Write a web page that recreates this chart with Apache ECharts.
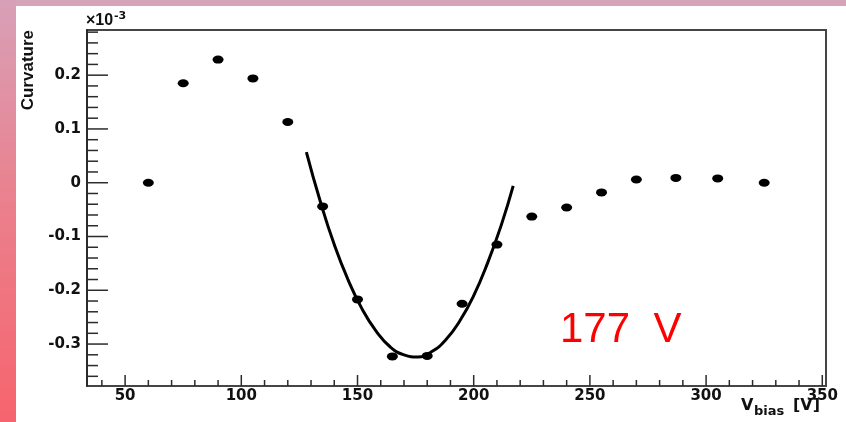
<!DOCTYPE html>
<html>
<head>
<meta charset="utf-8">
<script src="https://cdn.jsdelivr.net/npm/echarts@6/dist/echarts.min.js"></script>
<style>
  html, body { margin: 0; padding: 0; background: #ffffff; }
  #chart { width: 846px; height: 422px; }
</style>
</head>
<body>
<div id="chart"></div>
<script>
// Measured curvature (units of 1e-3) against bias voltage [V]
const vBias = [60, 75, 90, 105, 120, 135, 150, 165, 180, 195, 210, 225, 240, 255, 270, 287, 305, 325];
const curvature = [0.000, 0.185, 0.229, 0.194, 0.113, -0.044, -0.217, -0.323, -0.322, -0.225, -0.115, -0.063, -0.046, -0.018, 0.006, 0.009, 0.008, 0.000];

// Parabolic fit around the minimum
const fitV = [128, 134, 140, 146, 152, 158, 164, 170, 176, 182, 188, 194, 200, 206, 212, 217];
const fitCurvature = [0.057, -0.035, -0.115, -0.181, -0.235, -0.276, -0.305, -0.320, -0.324, -0.314, -0.292, -0.257, -0.210, -0.149, -0.077, -0.006];

// Axis ticks and labels
const xMajorTicks = [50, 100, 150, 200, 250, 300, 350];
const xMinorTicks = [40, 60, 70, 80, 90, 110, 120, 130, 140, 160, 170, 180, 190, 210, 220, 230, 240,
                     260, 270, 280, 290, 310, 320, 330, 340];
const yMajorTicks = [-0.3, -0.2, -0.1, 0, 0.1, 0.2];
const yMinorTicks = [-0.36, -0.34, -0.32, -0.28, -0.26, -0.24, -0.22, -0.18, -0.16, -0.14, -0.12,
                     -0.08, -0.06, -0.04, -0.02, 0.02, 0.04, 0.06, 0.08, 0.12, 0.14, 0.16, 0.18,
                     0.22, 0.24, 0.26, 0.28];

const X_MIN = 33.6, X_MAX = 351.6;
const Y_MIN = -0.378, Y_MAX = 0.284;

const tickFont = { fontFamily: 'DejaVu Sans', fontWeight: 'bold', fontSize: 15, color: '#111' };
const axisInk = '#2b2b2b';

// Inward tick marks placed through the axis scales: x ticks rise from the bottom edge,
// y ticks extend right from the left edge.
function tickSeries(values, dim, length) {
  return {
    type: 'custom', xAxisIndex: 0, yAxisIndex: 0, silent: true, z: 10, clip: false,
    data: values.map(v => [v, v]),
    renderItem: function (params, api) {
      const v = api.value(0);
      const p = dim === 'x' ? api.coord([v, Y_MIN]) : api.coord([X_MIN, v]);
      const q = dim === 'x' ? [p[0], p[1] - length] : [p[0] + length, p[1]];
      return {
        type: 'line',
        z2: 10,
        shape: { x1: p[0], y1: p[1], x2: q[0], y2: q[1] },
        style: { stroke: axisInk, lineWidth: 1.5 }
      };
    }
  };
}

const chart = echarts.init(document.getElementById('chart'));

chart.setOption({
  animation: false,
  grid: {
    left: 87, top: 30, right: 20, bottom: 36,
    show: true, borderColor: '#454545', borderWidth: 2
  },
  xAxis: {
    type: 'value', min: X_MIN, max: X_MAX, position: 'bottom',
    axisLine: { show: false, onZero: false },
    splitLine: { show: false },
    axisTick: { show: false },
    axisLabel: Object.assign({ customValues: xMajorTicks, margin: 3 }, tickFont)
  },
  yAxis: {
    type: 'value', min: Y_MIN, max: Y_MAX, position: 'left',
    axisLine: { show: true, onZero: false, lineStyle: { color: axisInk, width: 2 } },
    splitLine: { show: false },
    axisTick: { show: false },
    axisLabel: Object.assign({
      customValues: yMajorTicks, margin: 6,
      formatter: v => (Math.abs(v) < 1e-9 ? '0' : v.toFixed(1))
    }, tickFont)
  },
  series: [
    tickSeries(xMajorTicks, 'x', 11),
    tickSeries(xMinorTicks, 'x', 6),
    tickSeries(yMajorTicks, 'y', 21),
    tickSeries(yMinorTicks, 'y', 11),
    {
      name: 'fit', type: 'line',
      data: fitV.map((v, i) => [v, fitCurvature[i]]),
      smooth: true, symbol: 'none',
      lineStyle: { color: '#000000', width: 3 },
      z: 2
    },
    {
      name: 'curvature', type: 'scatter',
      data: vBias.map((v, i) => [v, curvature[i]]),
      symbol: 'circle', symbolSize: [11, 8],
      itemStyle: { color: '#000000', opacity: 1 },
      z: 3
    }
  ],
  graphic: [
    // slide frame strips
    { type: 'rect', shape: { x: 0, y: 0, width: 846, height: 6 }, style: { fill: '#d6a3b9' }, silent: true },
    {
      type: 'rect', shape: { x: 0, y: 0, width: 16, height: 422 }, silent: true,
      style: {
        fill: new echarts.graphic.LinearGradient(0, 0, 0, 1, [
          { offset: 0, color: '#d8a0b7' },
          { offset: 0.5, color: '#eb7f8b' },
          { offset: 1, color: '#f6646e' }
        ])
      }
    },
    // axis titles
    {
      type: 'text', x: 28, y: 30, rotation: Math.PI / 2,
      style: { text: 'Curvature', font: 'bold 17px "Liberation Sans"', fill: '#111',
               align: 'right', verticalAlign: 'middle' }
    },
    {
      type: 'text', x: 86, y: 21,
      style: { text: '×10', font: 'bold 16px "Liberation Sans"', fill: '#111',
               align: 'left', verticalAlign: 'middle' }
    },
    {
      type: 'text', x: 114, y: 16.5,
      style: { text: '-3', font: 'bold 11px "DejaVu Sans"', fill: '#111',
               align: 'left', verticalAlign: 'middle' }
    },
    {
      type: 'text', x: 741, y: 406,
      style: { text: 'V', font: 'bold 16px "DejaVu Sans"', fill: '#111',
               align: 'left', verticalAlign: 'middle' }
    },
    {
      type: 'text', x: 754, y: 412,
      style: { text: 'bias', font: 'bold 13px "DejaVu Sans"', fill: '#111',
               align: 'left', verticalAlign: 'middle' }
    },
    {
      type: 'text', x: 793, y: 406,
      style: { text: '[V]', font: 'bold 16px "DejaVu Sans"', fill: '#111',
               align: 'left', verticalAlign: 'middle' }
    },
    // fitted minimum annotation
    {
      type: 'text', x: 560, y: 330,
      style: { text: '177  V', font: '42px "Liberation Sans"', fill: '#ff0000',
               align: 'left', verticalAlign: 'middle' }
    }
  ]
});
</script>
</body>
</html>
